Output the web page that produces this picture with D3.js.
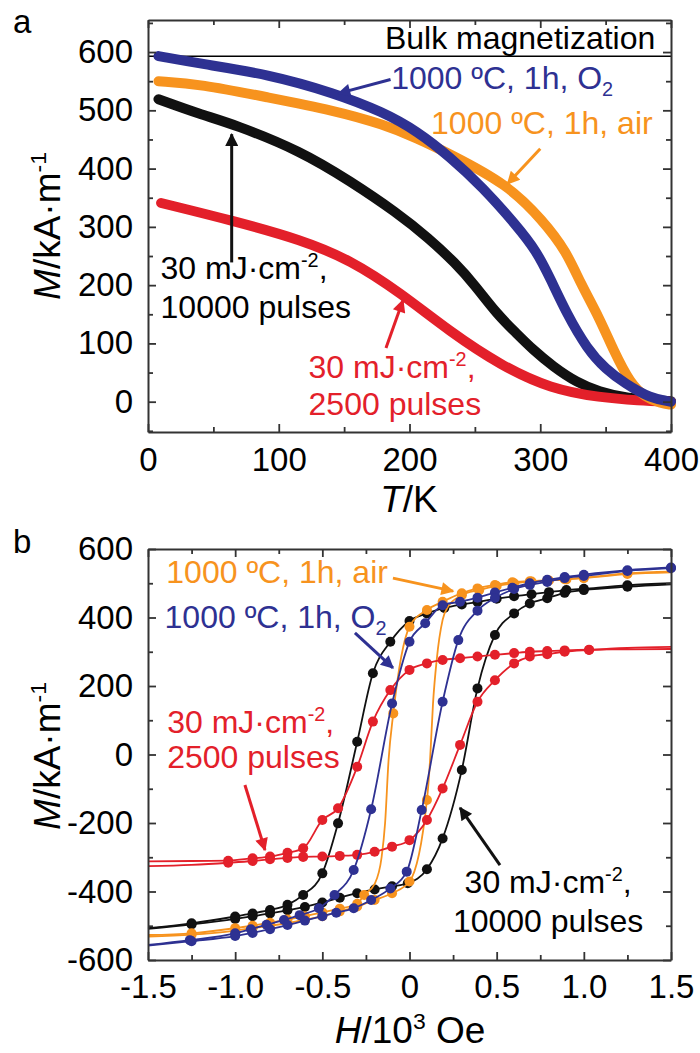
<!DOCTYPE html>
<html>
<head>
<meta charset="utf-8">
<script src="https://cdn.jsdelivr.net/npm/d3@7"></script>
<style>
  body { margin: 0; background: #fff; }
  text { font-family: "Liberation Sans", Arial, sans-serif; }
</style>
</head>
<body>
<div id="chart"></div>
<script>
// ---- panel a : M(T) curves, [T in K, M in kA/m]
var mtBlue = [[8,593],[40,580],[92,562],[142,530],[180,497],[206,464],[231,420],[256,368],[282,302],[297,259],[308,210],[320,152],[336,90],[350,56],[365,31],[384,6],[400,0]];
var mtOrange = [[8,550],[40,545],[92,522],[142,500],[180,476],[206,452],[231,425],[275,373],[302,311],[320,258],[331,202],[345,145],[356,88],[369,31],[380,8],[392,-3],[400,-5]];
var mtBlack = [[8,519],[40,493],[66,476],[117,430],[155,378],[190,325],[215,280],[235,238],[250,200],[267,150],[282,117],[294,90],[310,60],[328,33],[345,17],[365,6],[400,1]];
var mtRed = [[10,341],[66,310],[117,278],[155,243],[193,187],[231,120],[270,62],[308,22],[346,7],[375,2],[400,0]];
var bulkM = 593;

var tTicks = [0, 100, 200, 300, 400];
var tMinor = [50, 150, 250, 350];
var mTicksA = [0, 100, 200, 300, 400, 500, 600];
var mMinorA = [-50, 50, 150, 250, 350, 450, 550, 650];

// ---- panel b : hysteresis loops, [H in 10^3 Oe, M in kA/m, dot?]  (upper = descending branch, lower = ascending)
var blackUpper = [[-1.5,-507,0],[-1.25,-493],[-1.0,-473],[-0.9,-464],[-0.8,-454],[-0.7,-439],[-0.61,-410],[-0.5,-347],[-0.41,-201],[-0.3,37],[-0.21,237],[-0.11,329],[0,390],[0.1,412],[0.2,428],[0.3,438],[0.39,445],[0.5,455],[0.6,462],[0.7,468],[0.8,474],[0.9,480],[1.0,484],[1.25,494],[1.5,500,0]];
var blackLower = [[-1.5,-509,0],[-1.25,-496],[-1.0,-480],[-0.9,-472],[-0.8,-464],[-0.7,-455],[-0.6,-445],[-0.5,-432],[-0.4,-418],[-0.3,-405],[-0.2,-394],[-0.1,-385],[-0.01,-376],[0.1,-335],[0.19,-245],[0.3,-45],[0.39,193],[0.49,349],[0.6,412],[0.69,441],[0.79,456],[0.89,472],[1.0,480],[1.25,490],[1.5,497,0]];
var redUpper = [[-1.5,-312,0],[-1.25,-311,0],[-1.04,-310],[-0.9,-303],[-0.8,-298],[-0.7,-287],[-0.61,-274],[-0.5,-191],[-0.41,-157],[-0.3,-36],[-0.21,96],[-0.11,188],[0,247],[0.1,266],[0.19,276],[0.29,281],[0.39,286],[0.49,291],[0.6,296],[0.69,300],[0.79,302],[0.89,304],[1.03,306],[1.25,307,0],[1.5,308,0]];
var redLower = [[-1.5,-326,0],[-1.25,-322,0],[-1.04,-316],[-0.9,-311],[-0.8,-306],[-0.7,-302],[-0.61,-299],[-0.5,-298],[-0.4,-296],[-0.3,-293],[-0.2,-284],[-0.1,-269],[0,-250],[0.1,-191],[0.19,-99],[0.29,28],[0.39,154],[0.49,217],[0.6,266],[0.69,286],[0.79,293],[0.89,300],[1.03,305],[1.25,311,0],[1.5,314,0]];
var blueUpper = [[-1.5,-556,0],[-1.26,-542],[-1.0,-522],[-0.91,-510],[-0.82,-497],[-0.72,-483],[-0.63,-469],[-0.52,-449],[-0.43,-410],[-0.32,-337],[-0.22,-160],[-0.1,149],[0,329],[0.09,383],[0.19,436],[0.29,446],[0.39,458],[0.49,473],[0.59,487],[0.69,500],[0.79,510],[0.89,518],[1.0,525],[1.25,538],[1.5,546]];
var blueLower = [[-1.5,-558,0],[-1.25,-545],[-1.0,-530],[-0.9,-521],[-0.8,-510],[-0.7,-498],[-0.6,-485],[-0.5,-472],[-0.42,-462],[-0.32,-449],[-0.22,-425],[-0.11,-391],[-0.016,-342],[0.07,-162],[0.19,154],[0.28,334],[0.39,420],[0.49,457],[0.6,483],[0.69,495],[0.79,504],[0.89,515],[1.0,521],[1.25,536],[1.5,544]];
var orangeUpper = [[-1.5,-527,0],[-1.25,-522],[-1.0,-507],[-0.9,-500],[-0.8,-491],[-0.7,-482],[-0.6,-472],[-0.5,-461],[-0.4,-450],[-0.3,-436],[-0.26,-410],[-0.2,-378,0],[-0.16,-300,0],[-0.14,-200,0],[-0.12,-16,0],[-0.093,120],[0,373],[0.1,422],[0.19,446],[0.3,471],[0.39,485],[0.49,495],[0.59,503],[0.69,506],[0.79,509],[0.89,512],[1.0,516],[1.25,529],[1.5,534,0]];
var orangeLower = [[-1.5,-532,0],[-1.25,-526],[-1.0,-514],[-0.9,-507],[-0.8,-500],[-0.7,-492],[-0.6,-483],[-0.5,-472],[-0.4,-458],[-0.3,-444],[-0.2,-425],[-0.1,-405],[0,-371],[0.1,-133],[0.118,-16,0],[0.135,150,0],[0.156,276,0],[0.19,393,0],[0.22,431,0],[0.3,465],[0.4,480],[0.5,492],[0.6,500],[0.7,505],[0.8,508],[0.9,511],[1.0,515],[1.25,527],[1.5,532,0]];

var hTicks = [-1.5, -1.0, -0.5, 0, 0.5, 1.0, 1.5];
var hMinor = [-1.25, -0.75, -0.25, 0.25, 0.75, 1.25];
var mTicksB = [-600, -400, -200, 0, 200, 400, 600];
var mMinorB = [-500, -300, -100, 100, 300, 500];

var col = { blue: "#2e3192", orange: "#f7931e", red: "#e3202a", black: "#111111" };
var annFs = 32;

var svg = d3.select("#chart").append("svg")
    .attr("width", 700)
    .attr("height", 1053);

// arrow heads
var defs = svg.append("defs");
Object.keys(col).forEach(function (k) {
    defs.append("marker")
        .attr("id", "ah-" + k)
        .attr("viewBox", "0 0 10 10")
        .attr("refX", 9).attr("refY", 5)
        .attr("markerWidth", 16).attr("markerHeight", 13)
        .attr("markerUnits", "userSpaceOnUse")
        .attr("orient", "auto")
        .append("path")
        .attr("d", "M0,0 L10,5 L0,10 z")
        .attr("fill", col[k]);
});

// text with italic / super / subscript pieces
function rich(g, x, y, parts, fs, color, anchor) {
    var t = g.append("text")
        .attr("x", x).attr("y", y)
        .attr("font-size", fs + "px")
        .attr("fill", color || "#000")
        .attr("text-anchor", anchor || "start");
    var shift = 0;
    parts.forEach(function (p) {
        var s = t.append("tspan").text(p[0]);
        var want = 0;
        if (p[1] === "sup") want = -fs * 0.38;
        if (p[1] === "sub") want = fs * 0.22;
        if (p[1] === "sup" || p[1] === "sub") s.attr("font-size", (fs * 0.62) + "px");
        if (p[1] === "it") s.attr("font-style", "italic");
        if (want !== shift) { s.attr("dy", want - shift); shift = want; }
    });
    return t;
}

function arrow(g, x, y, a, k) {
    g.append("line")
        .attr("x1", x(a[0])).attr("y1", y(a[1]))
        .attr("x2", x(a[2])).attr("y2", y(a[3]))
        .attr("stroke", col[k])
        .attr("stroke-width", 3)
        .attr("marker-end", "url(#ah-" + k + ")");
}

function frame(g, x, y, xt, xm, yt, ym, xf, yf, pad) {
    var h = y.range()[0], w = x.range()[1];
    var axes = [
        g.append("g").attr("transform", "translate(0," + h + ")")
            .call(d3.axisBottom(x).tickValues(xt).tickFormat(xf).tickSizeInner(-8).tickSizeOuter(0).tickPadding(pad)),
        g.append("g").attr("transform", "translate(" + x.range()[0] + ",0)")
            .call(d3.axisLeft(y).tickValues(yt).tickFormat(yf).tickSizeInner(-8).tickSizeOuter(0).tickPadding(15)),
        g.append("g").attr("transform", "translate(0," + y.range()[1] + ")")
            .call(d3.axisTop(x).tickValues(xt).tickFormat("").tickSizeInner(-8).tickSizeOuter(0)),
        g.append("g").attr("transform", "translate(" + w + ",0)")
            .call(d3.axisRight(y).tickValues(yt).tickFormat("").tickSizeInner(-8).tickSizeOuter(0)),
        g.append("g").attr("transform", "translate(0," + h + ")")
            .call(d3.axisBottom(x).tickValues(xm).tickFormat("").tickSize(-5)),
        g.append("g").attr("transform", "translate(" + x.range()[0] + ",0)")
            .call(d3.axisLeft(y).tickValues(ym).tickFormat("").tickSize(-5)),
        g.append("g").attr("transform", "translate(0," + y.range()[1] + ")")
            .call(d3.axisTop(x).tickValues(xm).tickFormat("").tickSize(-5)),
        g.append("g").attr("transform", "translate(" + w + ",0)")
            .call(d3.axisRight(y).tickValues(ym).tickFormat("").tickSize(-5))
    ];
    axes.forEach(function (a, i) {
        if (i > 3) a.select(".domain").remove();
        a.select(".domain").attr("stroke", "#333").attr("stroke-width", 2);
        a.selectAll(".tick line").attr("stroke", "#333").attr("stroke-width", 1.8);
        a.selectAll(".tick text").attr("font-size", "33px").attr("fill", "#000")
            .attr("font-family", "Liberation Sans, Arial, sans-serif");
    });
}

// ================= panel a =================
var xa = d3.scaleLinear().domain([0, 400]).range([148, 671]);
var ya = d3.scaleLinear().domain([-52, 655]).range([432, 20]);
var ga = svg.append("g");

var lineA = d3.line().x(function (d) { return xa(d[0]); }).y(function (d) { return ya(d[1]); })
    .curve(d3.curveBasis);

ga.append("line")
    .attr("x1", xa(0)).attr("x2", xa(400))
    .attr("y1", ya(bulkM)).attr("y2", ya(bulkM))
    .attr("stroke", "#000").attr("stroke-width", 1.5);

[[mtBlack, "black"], [mtRed, "red"], [mtOrange, "orange"], [mtBlue, "blue"]].forEach(function (s) {
    ga.append("path")
        .datum(s[0])
        .attr("d", lineA)
        .attr("fill", "none")
        .attr("stroke", col[s[1]])
        .attr("stroke-width", 10)
        .attr("stroke-linecap", "round");
});

frame(ga, xa, ya, tTicks, tMinor, mTicksA, mMinorA, String, String, 16);

// annotations (data coords)
rich(ga, xa(388), ya(605), [["Bulk magnetization"]], annFs, "#000", "end");
rich(ga, xa(186), ya(536), [["1000 ºC, 1h, O"], ["2", "sub"]], annFs, col.blue);
rich(ga, xa(216.5), ya(459), [["1000 ºC, 1h, air"]], annFs, col.orange);
rich(ga, xa(9.6), ya(210), [["30 mJ·cm"], ["-2", "sup"], [","]], annFs, "#000");
rich(ga, xa(9.6), ya(143), [["10000 pulses"]], annFs, "#000");
rich(ga, xa(122.8), ya(40), [["30 mJ·cm"], ["-2", "sup"], [","]], annFs, col.red);
rich(ga, xa(122.8), ya(-23), [["2500 pulses"]], annFs, col.red);
arrow(ga, xa, ya, [185.5, 553, 145.7, 529], "blue");
arrow(ga, xa, ya, [300, 434, 275, 374], "orange");
arrow(ga, xa, ya, [64, 239, 64, 459], "black");
arrow(ga, xa, ya, [182, 92, 195, 174], "red");

rich(ga, 409, 512, [["T", "it"], ["/K"]], 37, "#000", "middle");
rich(ga, 0, 0, [["M", "it"], ["/kA·m"], ["-1", "sup"]], 37, "#000", "middle")
    .attr("transform", "translate(60,226) rotate(-90)");
rich(ga, 13, 33, [["a"]], 33, "#000");

// ================= panel b =================
var xb = d3.scaleLinear().domain([-1.5, 1.5]).range([148, 671]);
var yb = d3.scaleLinear().domain([-600, 600]).range([960, 549]);
var gb = svg.append("g");

var lineB = d3.line().x(function (d) { return xb(d[0]); }).y(function (d) { return yb(d[1]); })
    .curve(d3.curveMonotoneX);

var loops = [
    [blackUpper, blackLower, "black"],
    [orangeUpper, orangeLower, "orange"],
    [redUpper, redLower, "red"],
    [blueUpper, blueLower, "blue"]
];
loops.forEach(function (L) {
    var g = gb.append("g");
    [L[0], L[1]].forEach(function (br) {
        g.append("path")
            .datum(br)
            .attr("d", lineB)
            .attr("fill", "none")
            .attr("stroke", col[L[2]])
            .attr("stroke-width", 1.8);
    });
    g.selectAll("circle")
        .data(L[0].concat(L[1]).filter(function (d) { return d[2] !== 0; }))
        .enter().append("circle")
        .attr("cx", function (d) { return xb(d[0]); })
        .attr("cy", function (d) { return yb(d[1]); })
        .attr("r", 5)
        .attr("fill", col[L[2]]);
});

frame(gb, xb, yb, hTicks, hMinor, mTicksB, mMinorB,
    function (d) { return d === 0 ? "0" : d.toFixed(1); }, String, 15);

rich(gb, xb(-1.395), yb(501), [["1000 ºC, 1h, air"]], annFs, col.orange);
rich(gb, xb(-1.405), yb(369), [["1000 ºC, 1h, O"], ["2", "sub"]], annFs, col.blue);
rich(gb, xb(-1.39), yb(63), [["30 mJ·cm"], ["-2", "sup"], [","]], annFs, col.red);
rich(gb, xb(-1.39), yb(-39), [["2500 pulses"]], annFs, col.red);
rich(gb, xb(0.795), yb(-404), [["30 mJ·cm"], ["-2", "sup"], [","]], annFs, "#000", "middle");
rich(gb, xb(0.795), yb(-518), [["10000 pulses"]], annFs, "#000", "middle");
arrow(gb, xb, yb, [-0.095, 515, 0.25, 477], "orange");
arrow(gb, xb, yb, [-0.313, 355, -0.095, 253], "blue");
arrow(gb, xb, yb, [-0.944, -89, -0.829, -279], "red");
arrow(gb, xb, yb, [0.519, -323, 0.29, -156], "black");

rich(gb, 410, 1043, [["H", "it"], ["/10"], ["3", "sup"], [" Oe"]], 37, "#000", "middle");
rich(gb, 0, 0, [["M", "it"], ["/kA·m"], ["-1", "sup"]], 37, "#000", "middle")
    .attr("transform", "translate(60,756) rotate(-90)");
rich(gb, 13, 553, [["b"]], 33, "#000");
</script>
</body>
</html>
